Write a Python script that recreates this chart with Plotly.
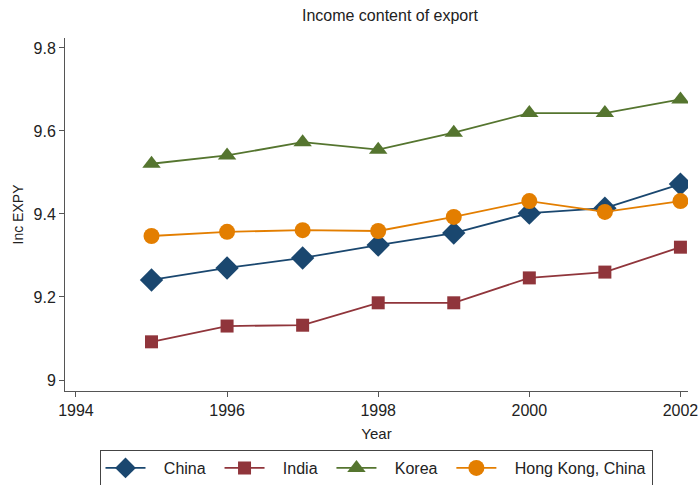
import plotly.graph_objects as go

years = [1995, 1996, 1997, 1998, 1999, 2000, 2001, 2002]
china = [9.241, 9.270, 9.294, 9.325, 9.354, 9.402, 9.414, 9.472]
india = [9.092, 9.130, 9.132, 9.186, 9.186, 9.246, 9.260, 9.320]
korea = [9.521, 9.541, 9.573, 9.555, 9.596, 9.643, 9.643, 9.676]
hongkong = [9.347, 9.357, 9.361, 9.359, 9.393, 9.431, 9.405, 9.431]

NB = "\u00a0"
series = [
    (NB * 3 + "China" + NB * 2, china, "#1a476f", "diamond", 18),
    (NB * 3 + "India" + NB * 2, india, "#90353b", "square", 13),
    (NB * 3 + "Korea" + NB * 2, korea, "#55752f", "triangle-up", 16),
    (NB * 3 + "Hong Kong, China", hongkong, "#e37e00", "circle", 16),
]

fig = go.Figure()
for name, vals, color, sym, size in series:
    fig.add_trace(go.Scatter(
        x=years, y=vals, name=name, mode="lines+markers",
        line=dict(color=color, width=1.8),
        marker=dict(symbol=sym, size=size, color=color),
    ))

W, H = 700, 485
fam = "Liberation Sans, Arial, sans-serif"
axis_font = dict(family=fam, size=16, color="#222")
fig.update_layout(
    width=W, height=H,
    paper_bgcolor="white", plot_bgcolor="white",
    margin=dict(l=65, r=12, t=38, b=94, autoexpand=False),
    font=dict(family=fam, size=15, color="#222"),
    title=dict(text="Income content of export", x=390 / W, xanchor="center",
               xref="container", yref="container",
               y=1 - 15 / H, yanchor="middle", font=dict(size=16)),
    showlegend=True,
    legend=dict(orientation="h", x=376 / W, xanchor="center", xref="container",
                yref="container", y=1 - 450 / H, yanchor="top",
                bordercolor="#444", borderwidth=1, font=dict(size=16),
                itemwidth=40, tracegroupgap=0),
    xaxis=dict(range=[1993.855, 2002.1], tickvals=[1994, 1996, 1998, 2000, 2002],
               showgrid=False, zeroline=False, showline=True, linecolor="#555",
               linewidth=1, ticks="outside", ticklen=5, tickcolor="#555",
               automargin=False,
               tickfont=axis_font, title=dict(text="Year", font=dict(size=15), standoff=10)),
    yaxis=dict(range=[8.9735, 9.824], tickvals=[9, 9.2, 9.4, 9.6, 9.8],
               ticktext=["9", "9.2", "9.4", "9.6", "9.8"],
               showgrid=False, zeroline=False, showline=True, linecolor="#555",
               linewidth=1, ticks="outside", ticklen=5, tickcolor="#555",
               automargin=False,
               tickfont=axis_font, title=dict(text="Inc EXPY", font=dict(size=14), standoff=6)),
)

fig.write_html("out.html", config={"displayModeBar": False},
               post_script="document.body.style.margin='0';document.body.style.overflow='hidden';")
